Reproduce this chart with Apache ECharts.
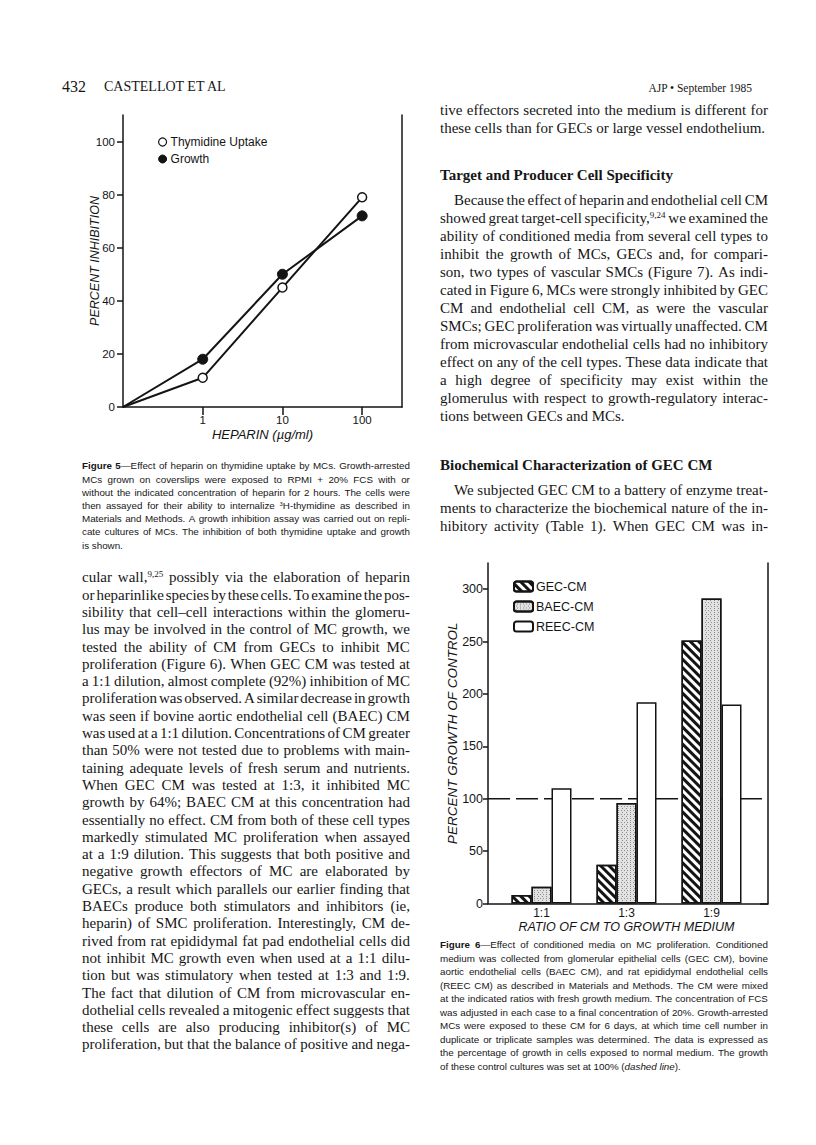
<!DOCTYPE html>
<html><head><meta charset="utf-8">
<script src="https://cdn.jsdelivr.net/npm/echarts@6/dist/echarts.min.js"></script>
<style>
html,body{margin:0;padding:0;background:#fff;}
#page{position:relative;width:816px;height:1145px;overflow:hidden;background:#fff;}
#chart{position:absolute;left:0;top:0;width:816px;height:1145px;}
.line{position:absolute;white-space:nowrap;color:#161616;}
.serif{font-family:"Liberation Serif","Times New Roman",serif;font-size:15px;}
.sans{font-family:"Liberation Sans",Arial,sans-serif;font-size:9.8px;}
.head{font-weight:bold;}
sup{font-size:0.6em;vertical-align:0.55em;line-height:0;}
</style></head><body><div id="page"><div id="chart"></div></div>
<script>
// ---------- Figure 5 data ----------
const heparinDoses = [1, 10, 100];
const thymidineInhibition = [11, 45, 79];
const growthInhibition = [18, 50, 72];
const fig5YTicks = [0, 20, 40, 60, 80, 100];

// ---------- Figure 6 data ----------
const cmRatios = ['1:1', '1:3', '1:9'];
const gecCM = [8, 37, 251];
const baecCM = [16, 96, 291];
const reecCM = [110, 192, 190];
const fig6YTicks = [0, 50, 100, 150, 200, 250, 300];
const controlLevel = 100;

// ---------- page text ----------
const leftColumn = [
 "cular wall,<sup>9,25</sup> possibly via the elaboration of heparin",
 "or heparinlike species by these cells. To examine the pos-",
 "sibility that cell–cell interactions within the glomeru-",
 "lus may be involved in the control of MC growth, we",
 "tested the ability of CM from GECs to inhibit MC",
 "proliferation (Figure 6). When GEC CM was tested at",
 "a 1:1 dilution, almost complete (92%) inhibition of MC",
 "proliferation was observed. A similar decrease in growth",
 "was seen if bovine aortic endothelial cell (BAEC) CM",
 "was used at a 1:1 dilution. Concentrations of CM greater",
 "than 50% were not tested due to problems with main-",
 "taining adequate levels of fresh serum and nutrients.",
 "When GEC CM was tested at 1:3, it inhibited MC",
 "growth by 64%; BAEC CM at this concentration had",
 "essentially no effect. CM from both of these cell types",
 "markedly stimulated MC proliferation when assayed",
 "at a 1:9 dilution. This suggests that both positive and",
 "negative growth effectors of MC are elaborated by",
 "GECs, a result which parallels our earlier finding that",
 "BAECs produce both stimulators and inhibitors (ie,",
 "heparin) of SMC proliferation. Interestingly, CM de-",
 "rived from rat epididymal fat pad endothelial cells did",
 "not inhibit MC growth even when used at a 1:1 dilu-",
 "tion but was stimulatory when tested at 1:3 and 1:9.",
 "The fact that dilution of CM from microvascular en-",
 "dothelial cells revealed a mitogenic effect suggests that",
 "these cells are also producing inhibitor(s) of MC",
 "proliferation, but that the balance of positive and nega-"
];
const rightTop = [
 "tive effectors secreted into the medium is different for",
 "these cells than for GECs or large vessel endothelium."
];
const heading1 = ["Target and Producer Cell Specificity"];
const rightPara = [
 "Because the effect of heparin and endothelial cell CM",
 "showed great target-cell specificity,<sup>9,24</sup> we examined the",
 "ability of conditioned media from several cell types to",
 "inhibit the growth of MCs, GECs and, for compari-",
 "son, two types of vascular SMCs (Figure 7). As indi-",
 "cated in Figure 6, MCs were strongly inhibited by GEC",
 "CM and endothelial cell CM, as were the vascular",
 "SMCs; GEC proliferation was virtually unaffected. CM",
 "from microvascular endothelial cells had no inhibitory",
 "effect on any of the cell types. These data indicate that",
 "a high degree of specificity may exist within the",
 "glomerulus with respect to growth-regulatory interac-",
 "tions between GECs and MCs."
];
const heading2 = ["Biochemical Characterization of GEC CM"];
const rightPara2 = [
 "We subjected GEC CM to a battery of enzyme treat-",
 "ments to characterize the biochemical nature of the in-",
 "hibitory activity (Table 1). When GEC CM was in-"
];
const fig5Caption = [
 "<b>Figure</b> <b>5</b>—Effect of heparin on thymidine uptake by MCs. Growth-arrested",
 "MCs grown on coverslips were exposed to RPMI + 20% FCS with or",
 "without the indicated concentration of heparin for 2 hours. The cells were",
 "then assayed for their ability to internalize <sup>3</sup>H-thymidine as described in",
 "Materials and Methods. A growth inhibition assay was carried out on repli-",
 "cate cultures of MCs. The inhibition of both thymidine uptake and growth",
 "is shown."
];
const fig6Caption = [
 "<b>Figure</b> <b>6</b>—Effect of conditioned media on MC proliferation. Conditioned",
 "medium was collected from glomerular epithelial cells (GEC CM), bovine",
 "aortic endothelial cells (BAEC CM), and rat epididymal endothelial cells",
 "(REEC CM) as described in Materials and Methods. The CM were mixed",
 "at the indicated ratios with fresh growth medium. The concentration of FCS",
 "was adjusted in each case to a final concentration of 20%. Growth-arrested",
 "MCs were exposed to these CM for 6 days, at which time cell number in",
 "duplicate or triplicate samples was determined. The data is expressed as",
 "the percentage of growth in cells exposed to normal medium. The growth",
 "of these control cultures was set at 100% (<i>dashed</i> <i>line</i>)."
];

const page = document.getElementById('page');
function addBlock(lines, o) {
  lines.forEach((ln, i) => {
    const div = document.createElement('div');
    div.className = 'line ' + o.cls;
    const indent = (i === 0 && o.indent) ? o.indent : 0;
    div.style.left = (o.x + indent) + 'px';
    div.style.top = (o.y + i * o.lh - o.lh / 2) + 'px';
    div.style.height = o.lh + 'px';
    div.style.lineHeight = o.lh + 'px';
    const justify = o.justify !== false && !(o.lastLeft && i === lines.length - 1);
    if (justify) {
      div.style.width = (o.w - indent) + 'px';
      div.style.display = 'flex';
      div.style.justifyContent = 'space-between';
      div.style.alignItems = 'baseline';
      ln.split(' ').forEach(wd => {
        const s = document.createElement('span');
        s.innerHTML = wd;
        div.appendChild(s);
      });
    } else {
      div.innerHTML = ln;
    }
    page.appendChild(div);
  });
}
function addText(html, o) {
  const d = document.createElement('div');
  d.className = 'line ' + (o.cls || '');
  d.innerHTML = html;
  Object.assign(d.style, o.style);
  page.appendChild(d);
}
addText('432', {cls: 'serif', style: {left: '62px', top: '78px', fontSize: '16px', lineHeight: '18px'}});
addText('CASTELLOT ET AL', {cls: 'serif', style: {left: '104px', top: '78px', fontSize: '14px', lineHeight: '18px'}});
addText('AJP • September 1985', {cls: 'serif', style: {right: '64px', top: '79px', fontSize: '11.5px', lineHeight: '18px'}});

addBlock(leftColumn, {cls: 'serif', x: 82, y: 578, w: 328, lh: 17.3});
addBlock(rightTop, {cls: 'serif', x: 440, y: 110, w: 328, lh: 18, lastLeft: true});
addBlock(heading1, {cls: 'serif head', x: 440, y: 175, w: 328, lh: 18, justify: false});
addBlock(rightPara, {cls: 'serif', x: 440, y: 200, w: 328, lh: 18, indent: 14, lastLeft: true});
addBlock(heading2, {cls: 'serif head', x: 440, y: 465, w: 328, lh: 18, justify: false});
addBlock(rightPara2, {cls: 'serif', x: 440, y: 490, w: 328, lh: 18, indent: 14});
addBlock(fig5Caption, {cls: 'sans', x: 82, y: 466, w: 328, lh: 13.2, lastLeft: true});
addBlock(fig6Caption, {cls: 'sans', x: 440, y: 945, w: 328, lh: 13.5, lastLeft: true});

// ---------- chart ----------
const INK = '#141414';
const FONT = 'Liberation Sans';
const chart = echarts.init(document.getElementById('chart'), null, {renderer: 'svg', width: 816, height: 1145});
const lineStyleAxis = {color: INK, width: 1.5};
const xMinLog = 0.1;   // position of the origin ("0") on the log heparin axis

const option = {
  backgroundColor: 'transparent',
  animation: false,
  textStyle: {fontFamily: FONT, color: INK},
  grid: [
    {left: 123, top: 115, width: 279, height: 292},
    {left: 488, top: 563, width: 280, height: 340.5},
    {left: 499, top: 563, width: 255, height: 340.5}
  ],
  legend: [
    {
      orient: 'vertical', left: 158, top: 136, padding: 0, itemGap: 5,
      itemWidth: 8, itemHeight: 8,
      textStyle: {fontSize: 12, color: INK, fontFamily: FONT, padding: [0, 0, 0, -1]},
      data: [
        {name: 'Thymidine Uptake', icon: 'circle', itemStyle: {color: '#fff', borderColor: INK, borderWidth: 1.2}},
        {name: 'Growth', icon: 'circle', itemStyle: {color: INK, borderColor: INK, borderWidth: 1}}
      ]
    },
    {
      orient: 'vertical', left: 513, top: 580, padding: 0, itemGap: 7,
      itemWidth: 19, itemHeight: 10,
      textStyle: {fontSize: 12.5, color: INK, fontFamily: FONT, padding: [0, 0, 0, -2]},
      data: ['GEC-CM', 'BAEC-CM', 'REEC-CM']
    }
  ],
  xAxis: [
    {
      gridIndex: 0, type: 'log', logBase: 10, min: xMinLog, max: 316.23,
      axisLine: {lineStyle: lineStyleAxis},
      axisTick: {show: true, length: 8, lineStyle: lineStyleAxis, customValues: heparinDoses},
      axisLabel: {customValues: heparinDoses, margin: 7, fontSize: 11.5, color: INK, fontFamily: FONT},
      splitLine: {show: false}, minorTick: {show: false},
      name: 'HEPARIN (µg/ml)', nameLocation: 'middle', nameGap: 21, nameMoveOverlap: false,
      nameTextStyle: {fontStyle: 'italic', fontSize: 13, color: INK, fontFamily: FONT}
    },
    {
      gridIndex: 1, type: 'value', position: 'top', min: 0, max: 1,
      axisLine: {show: true, lineStyle: lineStyleAxis},
      axisTick: {show: false}, axisLabel: {show: false}, splitLine: {show: false}
    },
    {
      gridIndex: 2, type: 'category', data: cmRatios,
      axisLine: {show: false}, axisTick: {show: false},
      axisLabel: {margin: 3, fontSize: 12, color: INK, fontFamily: FONT},
      name: 'RATIO OF CM TO GROWTH MEDIUM', nameLocation: 'middle', nameGap: 17, nameMoveOverlap: false,
      nameTextStyle: {fontStyle: 'italic', fontSize: 12.5, color: INK, fontFamily: FONT}
    }
  ],
  yAxis: [
    {
      gridIndex: 0, type: 'value', min: 0, max: 110,
      axisLine: {show: true, lineStyle: lineStyleAxis},
      axisTick: {show: true, length: 6, lineStyle: lineStyleAxis, customValues: fig5YTicks},
      axisLabel: {customValues: fig5YTicks, margin: 8, fontSize: 11.5, color: INK, fontFamily: FONT},
      splitLine: {show: false},
      name: 'PERCENT INHIBITION', nameLocation: 'middle', nameGap: 22, nameMoveOverlap: false,
      nameTextStyle: {fontStyle: 'italic', fontSize: 12.5, color: INK, fontFamily: FONT}
    },
    {
      gridIndex: 0, type: 'value', position: 'right', min: 0, max: 110,
      axisLine: {show: true, lineStyle: lineStyleAxis},
      axisTick: {show: false}, axisLabel: {show: false}, splitLine: {show: false}
    },
    {
      gridIndex: 1, type: 'value', min: 0, max: 325,
      axisLine: {show: true, lineStyle: lineStyleAxis},
      axisTick: {show: true, length: 5, lineStyle: lineStyleAxis, customValues: fig6YTicks},
      axisLabel: {customValues: fig6YTicks, margin: 5, fontSize: 12.5, color: INK, fontFamily: FONT},
      splitLine: {show: false},
      name: 'PERCENT GROWTH OF CONTROL', nameLocation: 'middle', nameGap: 29, nameMoveOverlap: false,
      nameTextStyle: {fontStyle: 'italic', fontSize: 13.5, color: INK, fontFamily: FONT}
    },
    {
      gridIndex: 1, type: 'value', position: 'right', min: 0, max: 325,
      axisLine: {show: true, lineStyle: lineStyleAxis},
      axisTick: {show: true, inside: true, length: 8, lineStyle: lineStyleAxis, customValues: [0]},
      axisLabel: {show: false}, splitLine: {show: false}
    },
    {gridIndex: 2, type: 'value', min: 0, max: 325, show: false}
  ],
  series: [
    {
      name: 'Thymidine Uptake', type: 'line', xAxisIndex: 0, yAxisIndex: 0, z: 3,
      data: [{value: [xMinLog, 0], symbol: 'none'}].concat(heparinDoses.map((d, i) => [d, thymidineInhibition[i]])),
      symbol: 'circle', symbolSize: 9,
      itemStyle: {color: '#fff', borderColor: INK, borderWidth: 1.5},
      lineStyle: {color: INK, width: 2}
    },
    {
      name: 'Growth', type: 'line', xAxisIndex: 0, yAxisIndex: 0, z: 4,
      data: [{value: [xMinLog, 0], symbol: 'none'}].concat(heparinDoses.map((d, i) => [d, growthInhibition[i]])),
      symbol: 'circle', symbolSize: 10,
      itemStyle: {color: INK, borderColor: INK, borderWidth: 1},
      lineStyle: {color: INK, width: 2}
    },
    {
      name: 'control', type: 'line', xAxisIndex: 1, yAxisIndex: 2, z: 1,
      data: [[0, controlLevel], [1, controlLevel]], symbol: 'none', silent: true,
      lineStyle: {color: INK, width: 1.5, type: [22, 6]}
    },
    {
      name: 'GEC-CM', type: 'bar', xAxisIndex: 2, yAxisIndex: 4, z: 3,
      data: gecCM, barWidth: 20, barGap: '0%',
      itemStyle: {
        color: '#fff', borderColor: INK, borderWidth: 1.5,
        decal: {symbol: 'rect', symbolSize: 1, dashArrayX: [1, 0], dashArrayY: [2.6, 2.4], rotation: Math.PI / 4, color: INK}
      }
    },
    {
      name: 'BAEC-CM', type: 'bar', xAxisIndex: 2, yAxisIndex: 4, z: 3,
      data: baecCM, barWidth: 20, barGap: '0%',
      itemStyle: {
        color: '#e2e2e2', borderColor: INK, borderWidth: 1.5,
        decal: {symbol: 'rect', symbolSize: 1, dashArrayX: [[1, 2], [0, 1.5, 1, 0.5]], dashArrayY: [1, 0.5], rotation: 0, color: '#8c8c8c'}
      }
    },
    {
      name: 'REEC-CM', type: 'bar', xAxisIndex: 2, yAxisIndex: 4, z: 3,
      data: reecCM, barWidth: 20, barGap: '0%',
      itemStyle: {color: '#fff', borderColor: INK, borderWidth: 1.5}
    }
  ]
};
chart.setOption(option);
</script></body></html>
